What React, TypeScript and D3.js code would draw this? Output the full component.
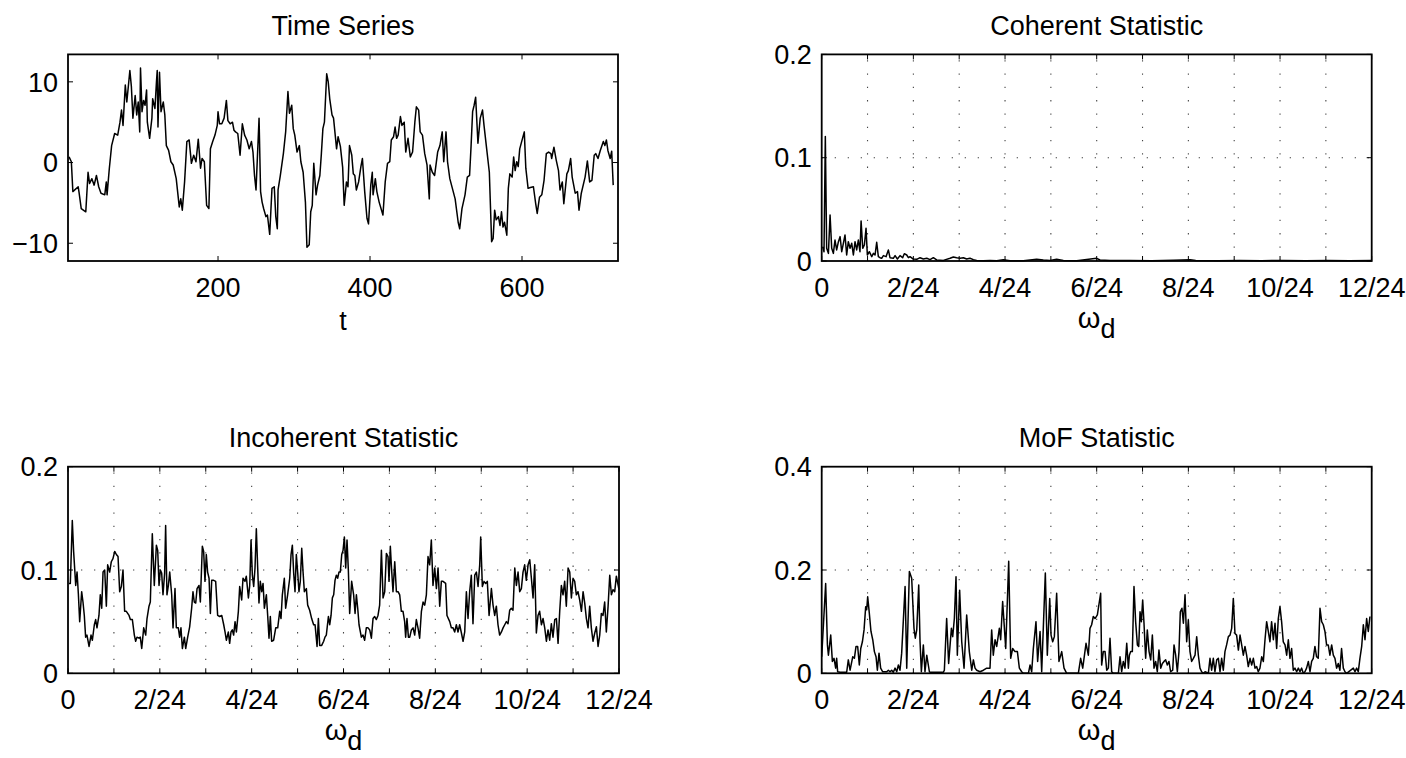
import React from 'react';
import * as d3 from 'd3';

// ---------- data ----------
const timeSeries: [number, number][] = [
  [4,0.7],[7,0.1],[9,-3.6],[16,-3.0],[17,-3.6],[20,-5.7],[26,-6.1],[29,-1.2],[31,-2.6],[34,-2.0],[37,-2.8],[40,-1.6],[43,-3.0],[46,-3.8],[51,-4.0],[53,-2.4],[54,-4.0],[57,-0.7],[60,2.1],[64,3.6],[68,3.4],[71,5.0],[73,6.5],[75,4.6],[78,9.6],[80,7.5],[84,11.4],[86,9.4],[88,5.5],[91,8.3],[93,5.9],[95,7.5],[97,3.8],[98,11.7],[100,6.3],[102,7.7],[104,7.1],[106,9.0],[107,5.0],[110,3.0],[113,5.5],[114,7.9],[117,6.7],[119,10.0],[120,11.4],[121,4.4],[123,11.2],[125,6.3],[128,7.5],[130,5.9],[132,2.1],[135,1.5],[138,0.1],[141,-0.3],[145,-2.0],[149,-5.5],[151,-4.5],[153,-5.9],[156,-2.4],[159,2.6],[162,2.8],[165,-0.1],[168,0.9],[171,0.1],[174,2.9],[177,-0.7],[179,0.5],[182,0.1],[185,-5.3],[188,-5.7],[190,1.7],[193,2.6],[196,3.4],[199,4.6],[200,6.3],[202,4.8],[205,4.8],[208,5.5],[211,7.7],[213,5.2],[216,4.8],[219,5.0],[221,4.0],[223,3.8],[226,3.6],[229,0.9],[232,4.8],[235,3.4],[238,2.8],[241,1.7],[244,2.6],[246,1.3],[248,-1.6],[250,-3.4],[254,5.5],[256,-3.6],[258,-4.9],[260,-5.7],[263,-6.7],[265,-6.5],[268,-8.9],[271,-3.2],[274,-3.0],[276,-6.7],[278,-8.2],[279,-3.4],[282,-1.6],[286,1.1],[289,3.8],[292,8.8],[294,6.1],[297,7.1],[299,4.2],[301,3.4],[304,1.3],[307,2.1],[309,0.1],[312,-1.2],[315,-4.9],[317,-10.5],[320,-10.2],[322,-6.1],[324,-5.3],[326,-0.1],[329,-4.0],[331,-2.8],[334,-1.6],[336,1.1],[338,4.2],[340,5.0],[343,11.0],[345,10.0],[347,7.9],[350,5.9],[352,5.5],[356,1.7],[358,3.2],[361,2.0],[364,-0.6],[366,-5.3],[369,-2.4],[371,-3.0],[373,2.1],[376,0.9],[378,-1.4],[380,-1.6],[382,-3.4],[385,-2.4],[388,-0.5],[390,0.5],[393,-3.6],[396,-6.9],[398,-7.6],[401,-2.8],[403,-1.2],[404,-4.0],[407,-2.0],[409,-3.6],[412,-4.9],[417,-6.5],[420,-2.4],[423,-0.1],[426,0.1],[428,2.8],[431,3.2],[433,4.4],[435,3.0],[437,3.4],[440,5.7],[442,4.6],[445,5.0],[447,1.3],[450,3.0],[453,0.7],[456,1.3],[459,5.0],[461,6.9],[464,6.5],[466,3.8],[469,3.4],[472,1.1],[475,-0.3],[478,-4.5],[479,-0.3],[482,-1.2],[485,-1.6],[489,1.3],[492,2.1],[495,3.8],[497,0.1],[500,3.8],[502,0.1],[505,-2.0],[512,-4.5],[516,-7.4],[518,-8.2],[521,-5.7],[525,-4.0],[528,-1.8],[531,-1.6],[533,2.1],[535,6.3],[537,7.1],[539,8.1],[542,2.4],[545,5.5],[548,6.5],[550,4.6],[553,2.1],[557,-1.2],[560,-9.8],[562,-9.4],[564,-5.9],[566,-7.1],[569,-6.7],[571,-7.8],[573,-6.1],[575,-8.0],[577,-7.4],[580,-9.0],[582,-3.2],[584,-1.4],[587,-1.8],[589,0.7],[591,-1.0],[593,0.1],[595,-0.5],[597,1.7],[599,2.4],[603,3.8],[605,-0.7],[608,-3.2],[611,-3.1],[615,-3.0],[618,-5.1],[620,-6.3],[623,-4.3],[626,-4.0],[629,-2.2],[632,1.1],[635,1.3],[638,1.1],[639,0.5],[642,1.9],[645,0.3],[648,-1.0],[650,-3.4],[653,-2.4],[655,-5.1],[659,-1.4],[661,-1.0],[664,0.5],[666,-1.8],[670,-3.8],[673,-3.6],[675,-5.9],[678,-3.8],[683,-1.8],[686,0.2],[689,-2.4],[692,-2.2],[695,0.9],[697,1.1],[700,0.5],[703,1.5],[707,2.6],[709,2.1],[711,2.8],[713,1.5],[716,0.5],[718,1.4],[720,-2.8]
];

const coherent: [number, number][] = [
  [0.0009,0.0139],[0.0021,0.009],[0.0033,0.1205],[0.0045,0.0123],[0.0061,0.0074],[0.0076,0.0446],[0.0091,0.0123],[0.0106,0.0074],[0.0121,0.0203],[0.0136,0.0107],[0.0152,0.0187],[0.0167,0.0236],[0.0182,0.009],[0.0197,0.0171],[0.0212,0.0252],[0.0227,0.0058],[0.0242,0.0187],[0.0258,0.0123],[0.0273,0.0171],[0.0288,0.0058],[0.0303,0.0187],[0.0318,0.0107],[0.0333,0.0203],[0.0348,0.009],[0.0358,0.0388],[0.0373,0.0123],[0.0388,0.0155],[0.0403,0.0317],[0.0415,0.0058],[0.0433,0.009],[0.0455,0.0042],[0.047,0.0074],[0.0485,0.0058],[0.05,0.0181],[0.0515,0.0042],[0.053,0.0032],[0.0545,0.0026],[0.0561,0.0052],[0.0585,0.0042],[0.0606,0.0107],[0.0621,0.0032],[0.0651,0.0026],[0.0667,0.0052],[0.0688,0.0019],[0.0712,0.0052],[0.0736,0.0032],[0.0751,0.0071],[0.0773,0.0058],[0.0788,0.0032],[0.0803,0.0042],[0.0833,0.0019],[0.0864,0.0016],[0.0894,0.0032],[0.0924,0.0019],[0.0955,0.0026],[0.0985,0.0013],[0.1015,0.0032],[0.1045,0.001],[0.1106,0.0006],[0.1167,0.0026],[0.1197,0.0039],[0.1227,0.0032],[0.1258,0.0026],[0.1288,0.0032],[0.1318,0.0019],[0.1348,0.0026],[0.1379,0.0013],[0.1409,0.0006],[0.147,0.0003],[0.153,0.0006],[0.1591,0.0003],[0.1651,0.0013],[0.1712,0.0003],[0.1833,0.0003],[0.1954,0.0016],[0.2015,0.001],[0.2076,0.0006],[0.2136,0.0016],[0.2197,0.0006],[0.2318,0.0003],[0.25,0.0026],[0.253,0.001],[0.2621,0.0006],[0.28,0.0005],[0.3,0.0003],[0.32,0.0008],[0.335,0.0012],[0.34,0.0006],[0.36,0.0003],[0.38,0.0004],[0.4,0.0003],[0.42,0.0005],[0.44,0.0003],[0.46,0.0004],[0.48,0.0003],[0.5,0.0004]
];

const incoherent: [number, number][] = [
  [0.0009,0.087],[0.0021,0.087],[0.0039,0.148],[0.0051,0.118],[0.007,0.085],[0.0082,0.098],[0.0094,0.077],[0.0106,0.05],[0.0124,0.079],[0.0136,0.069],[0.0148,0.056],[0.016,0.035],[0.0172,0.037],[0.0191,0.026],[0.0209,0.037],[0.0221,0.032],[0.0239,0.047],[0.0251,0.052],[0.0263,0.044],[0.0281,0.056],[0.0293,0.076],[0.0306,0.063],[0.0318,0.098],[0.0333,0.1],[0.0348,0.065],[0.036,0.105],[0.0378,0.098],[0.0393,0.108],[0.0408,0.111],[0.0424,0.118],[0.0439,0.115],[0.0454,0.113],[0.0469,0.079],[0.0484,0.084],[0.0499,0.1],[0.0514,0.06],[0.0529,0.06],[0.0554,0.056],[0.0566,0.052],[0.0584,0.052],[0.0602,0.037],[0.0614,0.031],[0.0626,0.035],[0.0644,0.034],[0.0656,0.035],[0.0669,0.024],[0.0687,0.044],[0.0705,0.037],[0.0717,0.053],[0.0735,0.065],[0.0747,0.069],[0.0765,0.135],[0.0783,0.085],[0.0802,0.124],[0.0814,0.119],[0.0826,0.085],[0.0838,0.1],[0.085,0.097],[0.0862,0.076],[0.0877,0.097],[0.0886,0.143],[0.0898,0.076],[0.0911,0.085],[0.0923,0.098],[0.0941,0.076],[0.0953,0.044],[0.0971,0.082],[0.0983,0.044],[0.1001,0.044],[0.1013,0.035],[0.1025,0.044],[0.1038,0.024],[0.1056,0.035],[0.1068,0.024],[0.1086,0.035],[0.1104,0.045],[0.1122,0.063],[0.1134,0.079],[0.1146,0.069],[0.1159,0.068],[0.1171,0.082],[0.1189,0.085],[0.1201,0.069],[0.1219,0.123],[0.1231,0.118],[0.1243,0.089],[0.1255,0.115],[0.1267,0.098],[0.128,0.092],[0.1292,0.058],[0.1304,0.09],[0.1322,0.09],[0.134,0.089],[0.1358,0.056],[0.1376,0.055],[0.1395,0.056],[0.1413,0.047],[0.1425,0.04],[0.1437,0.032],[0.1455,0.04],[0.1467,0.029],[0.1479,0.04],[0.1491,0.042],[0.1503,0.037],[0.1516,0.05],[0.1528,0.04],[0.1546,0.06],[0.1558,0.084],[0.1576,0.071],[0.1588,0.092],[0.1606,0.089],[0.1618,0.094],[0.1637,0.073],[0.1649,0.085],[0.1661,0.129],[0.1673,0.095],[0.1685,0.084],[0.1697,0.102],[0.1709,0.14],[0.1721,0.103],[0.1733,0.068],[0.1745,0.089],[0.1758,0.079],[0.177,0.087],[0.1782,0.063],[0.18,0.076],[0.1812,0.056],[0.1824,0.034],[0.1836,0.055],[0.1848,0.031],[0.1866,0.032],[0.1885,0.044],[0.1903,0.044],[0.1921,0.06],[0.1933,0.053],[0.1945,0.076],[0.1963,0.092],[0.1975,0.063],[0.1993,0.076],[0.2012,0.092],[0.2024,0.115],[0.2036,0.124],[0.2048,0.097],[0.206,0.079],[0.2072,0.115],[0.2084,0.098],[0.2096,0.079],[0.2108,0.089],[0.2121,0.121],[0.2133,0.098],[0.2145,0.079],[0.2163,0.082],[0.2175,0.066],[0.2193,0.061],[0.2211,0.053],[0.2229,0.047],[0.2242,0.047],[0.226,0.026],[0.2272,0.053],[0.2284,0.027],[0.2302,0.027],[0.232,0.031],[0.2332,0.035],[0.2344,0.037],[0.2363,0.055],[0.2375,0.047],[0.2387,0.056],[0.2399,0.073],[0.2411,0.076],[0.2423,0.09],[0.2435,0.095],[0.2447,0.092],[0.2459,0.098],[0.2471,0.098],[0.2484,0.115],[0.2496,0.119],[0.2508,0.132],[0.252,0.102],[0.2532,0.129],[0.2544,0.1],[0.2556,0.058],[0.2574,0.089],[0.2592,0.076],[0.2605,0.058],[0.2617,0.076],[0.2629,0.063],[0.2641,0.047],
  [0.2662,0.035],[0.2677,0.037],[0.2692,0.032],[0.2707,0.044],[0.2723,0.044],[0.2738,0.042],[0.2753,0.034],[0.2768,0.053],[0.2783,0.055],[0.2798,0.052],[0.2813,0.056],[0.2828,0.066],[0.2844,0.119],[0.2859,0.073],[0.2874,0.079],[0.2889,0.116],[0.2904,0.113],[0.2913,0.089],[0.2925,0.123],[0.2934,0.105],[0.2949,0.079],[0.2965,0.108],[0.298,0.079],[0.2995,0.079],[0.301,0.076],[0.3025,0.06],[0.304,0.06],[0.3055,0.05],[0.3064,0.035],[0.3076,0.053],[0.3089,0.035],[0.3101,0.035],[0.3116,0.042],[0.3131,0.044],[0.3146,0.037],[0.3161,0.052],[0.3176,0.044],[0.3191,0.034],[0.3207,0.06],[0.3222,0.069],[0.3237,0.066],[0.3252,0.076],[0.3267,0.113],[0.3282,0.105],[0.3297,0.129],[0.3312,0.085],[0.3328,0.102],[0.3343,0.082],[0.3358,0.102],[0.3373,0.065],[0.3388,0.089],[0.3403,0.089],[0.3427,0.087],[0.3439,0.056],[0.3464,0.05],[0.3479,0.044],[0.3494,0.044],[0.3509,0.04],[0.3524,0.047],[0.3539,0.04],[0.3554,0.047],[0.357,0.039],[0.3585,0.031],[0.36,0.04],[0.3615,0.079],[0.363,0.053],[0.3645,0.079],[0.366,0.095],[0.3675,0.048],[0.3691,0.095],[0.3706,0.098],[0.3721,0.084],[0.3736,0.105],[0.3745,0.132],[0.376,0.084],[0.3775,0.089],[0.379,0.087],[0.3805,0.089],[0.3821,0.056],[0.3842,0.082],[0.3857,0.066],[0.3872,0.056],[0.3887,0.065],[0.3902,0.047],[0.3917,0.037],[0.3933,0.04],[0.3948,0.044],[0.3963,0.047],[0.3978,0.05],[0.3993,0.048],[0.4008,0.061],[0.4023,0.063],[0.4038,0.061],[0.4054,0.102],[0.4069,0.085],[0.4084,0.098],[0.4099,0.079],[0.4114,0.082],[0.4129,0.098],[0.4144,0.105],[0.4159,0.09],[0.4175,0.105],[0.419,0.11],[0.4205,0.092],[0.422,0.073],[0.4235,0.105],[0.425,0.039],[0.4265,0.056],[0.428,0.06],[0.4296,0.047],[0.4311,0.053],[0.4326,0.044],[0.4341,0.031],[0.4356,0.042],[0.4371,0.032],[0.4386,0.048],[0.4401,0.035],[0.4417,0.052],[0.4432,0.053],[0.4447,0.029],[0.4462,0.06],[0.4477,0.085],[0.4492,0.076],[0.4507,0.089],[0.4522,0.065],[0.4538,0.102],[0.4553,0.098],[0.4568,0.073],[0.4583,0.092],[0.4598,0.089],[0.4613,0.076],[0.4628,0.079],[0.4643,0.071],[0.4659,0.06],[0.4674,0.079],[0.4689,0.068],[0.4704,0.053],[0.4719,0.044],[0.4734,0.065],[0.4749,0.044],[0.4764,0.031],[0.478,0.039],[0.4795,0.045],[0.481,0.026],[0.4825,0.037],[0.484,0.058],[0.4855,0.056],[0.487,0.069],[0.4885,0.04],[0.4901,0.065],[0.4916,0.095],[0.4931,0.076],[0.4946,0.081],[0.4961,0.079],[0.4976,0.094],[0.5,0.081]
];

const mof: [number, number][] = [
  [0,0.032],[0.0036,0.174],[0.0052,0.055],[0.0061,0.035],[0.0082,0.074],[0.0097,0.023],[0.0112,0.029],[0.0127,0.01],[0.0136,0.029],[0.0145,0.003],[0.0167,0.002],[0.0227,0.002],[0.0242,0.026],[0.0258,0.006],[0.0282,0.032],[0.0297,0.029],[0.0312,0.052],[0.0327,0.052],[0.0342,0.016],[0.0355,0.048],[0.037,0.061],[0.0385,0.084],[0.04,0.129],[0.0409,0.123],[0.0418,0.148],[0.0427,0.129],[0.0433,0.116],[0.0448,0.081],[0.0464,0.065],[0.0479,0.042],[0.0494,0.032],[0.0506,0.006],[0.0521,0.039],[0.0536,0.01],[0.0555,0.003],[0.0591,0.003],[0.0606,0.006],[0.0621,0.003],[0.0636,0.006],[0.0651,0.002],[0.0667,0.01],[0.0682,0.003],[0.0697,0.016],[0.0712,0.006],[0.0727,0.039],[0.0758,0.168],[0.0773,0.01],[0.0797,0.197],[0.0818,0.184],[0.0839,0.087],[0.0851,0.068],[0.0864,0.084],[0.0882,0.171],[0.0894,0.061],[0.0906,0.003],[0.0924,0.055],[0.0939,0.003],[0.0955,0.035],[0.0979,0.003],[0.0985,0.002],[0.1106,0.002],[0.1115,0.006],[0.1136,0.106],[0.1154,0.019],[0.1179,0.087],[0.1191,0.071],[0.1206,0.106],[0.1221,0.187],[0.1233,0.035],[0.1254,0.161],[0.1273,0.061],[0.1294,0.01],[0.1318,0.113],[0.1342,0.042],[0.1364,0.006],[0.1379,0.026],[0.1394,0.01],[0.1409,0.006],[0.1439,0.003],[0.147,0.006],[0.15,0.01],[0.153,0.01],[0.1545,0.084],[0.156,0.035],[0.1576,0.065],[0.1591,0.052],[0.1615,0.087],[0.1627,0.065],[0.1645,0.139],[0.1657,0.1],[0.1673,0.048],[0.17,0.217],[0.1718,0.029],[0.1736,0.048],[0.1757,0.042],[0.1779,0.042],[0.1797,0.01],[0.1818,0.003],[0.1833,0],[0.1879,0],[0.1894,0.016],[0.1909,0.003],[0.1924,0.048],[0.1948,0.1],[0.1963,0.023],[0.1985,0.081],[0.2,0.003],[0.2033,0.194],[0.2051,0.035],[0.2073,0.145],[0.2085,0.074],[0.21,0.061],[0.2115,0.071],[0.2136,0.155],[0.2157,0.023],[0.2182,0.042],[0.2203,0.01],[0.2227,0],[0.2333,0],[0.2354,0.029],[0.2373,0.01],[0.2403,0.058],[0.2424,0.035],[0.2439,0.087],[0.2454,0.094],[0.2469,0.11],[0.2485,0.106],[0.2506,0.113],[0.2536,0.155],
  [0.2545,0.016],[0.256,0.042],[0.2576,0.042],[0.2591,0.006],[0.2606,0.01],[0.2621,0.068],[0.2636,0.003],[0.2651,0],[0.2697,0],[0.2712,0.032],[0.2727,0.003],[0.2742,0.023],[0.2757,0.01],[0.2773,0.058],[0.2788,0.01],[0.2797,0.035],[0.2809,0.042],[0.2824,0.042],[0.2839,0.168],[0.2854,0.1],[0.287,0.055],[0.2882,0.052],[0.2894,0.119],[0.2906,0.1],[0.2918,0.142],[0.293,0.097],[0.2945,0.029],[0.296,0.084],[0.2976,0.042],[0.2991,0.026],[0.3006,0.074],[0.3021,0.01],[0.3036,0.023],[0.3051,0.003],[0.3066,0.045],[0.3082,0.01],[0.3097,0.019],[0.3112,0.023],[0.3127,0.026],[0.3142,0.016],[0.3157,0.023],[0.3172,0.003],[0.3191,0.006],[0.3203,0.055],[0.3218,0.035],[0.3233,0.003],[0.3248,0.042],[0.326,0.119],[0.3275,0.126],[0.3288,0.097],[0.3303,0.152],[0.3318,0.061],[0.3333,0.103],[0.3348,0.042],[0.3363,0.023],[0.3379,0.029],[0.3394,0.035],[0.3409,0.071],[0.3424,0.035],[0.3439,0.01],[0.3454,0.003],[0.3469,0],[0.3485,0.003],[0.3515,0],[0.353,0.029],[0.3545,0.006],[0.356,0.029],[0.3575,0.003],[0.3591,0.026],[0.3606,0.029],[0.3621,0.003],[0.3636,0.029],[0.3651,0.006],[0.3666,0.042],[0.3681,0.055],[0.3697,0.071],[0.3712,0.074],[0.3727,0.087],[0.3742,0.145],[0.3757,0.077],[0.3772,0.074],[0.3788,0.045],[0.3803,0.074],[0.3818,0.055],[0.3833,0.035],[0.3848,0.052],[0.3863,0.035],[0.3878,0.013],[0.3894,0.029],[0.3909,0.016],[0.3924,0.029],[0.3939,0.01],[0.3954,0.013],[0.3969,0.003],[0.3984,0.01],[0.4,0.032],[0.4015,0.023],[0.403,0.065],[0.4045,0.1],[0.406,0.081],[0.4075,0.061],[0.409,0.1],[0.4106,0.065],[0.4121,0.097],[0.4136,0.048],[0.4151,0.106],[0.4166,0.129],[0.4181,0.1],[0.4196,0.061],[0.4212,0.055],[0.4227,0.035],[0.4242,0.065],[0.4257,0.029],[0.4272,0.048],[0.4287,0.006],[0.4302,0.01],[0.4318,0.003],[0.4333,0.01],[0.4348,0.003],[0.4363,0.01],[0.4378,0],[0.4393,0.003],[0.4408,0.01],[0.4424,0.023],[0.4439,0.003],[0.4454,0.023],[0.4469,0.029],[0.4484,0.052],[0.4499,0.032],[0.4514,0.029],[0.453,0.126],[0.4545,0.1],[0.456,0.094],[0.4575,0.081],[0.459,0.055],[0.4605,0.055],[0.462,0.035],[0.4636,0.055],[0.4651,0.035],[0.4666,0.029],[0.4681,0.01],[0.4696,0.019],[0.4711,0.006],[0.4726,0.048],[0.4742,0.01],[0.4757,0.003],[0.4772,0],[0.4833,0.01],[0.4848,0.003],[0.4863,0.01],[0.4878,0.003],[0.4893,0.029],[0.4909,0.052],[0.4924,0.094],[0.4939,0.065],[0.4954,0.106],[0.4969,0.081],[0.4984,0.11]
];

const tsXTicks = [200, 400, 600];
const tsXTickLabels = ['200', '400', '600'];
const tsYTicks = [-10, 0, 10];
const tsYTickLabels = ['\u221210', '0', '10'];

const freqTicks = [0, 1/24, 2/24, 3/24, 4/24, 5/24, 6/24, 7/24, 8/24, 9/24, 10/24, 11/24, 12/24];
const freqTickLabels = ['0', '', '2/24', '', '4/24', '', '6/24', '', '8/24', '', '10/24', '', '12/24'];
const statYTicks = [0, 0.1, 0.2];
const statYTickLabels = ['0', '0.1', '0.2'];
const mofYTicks = [0, 0.2, 0.4];
const mofYTickLabels = ['0', '0.2', '0.4'];

const titles = ['Time Series', 'Coherent Statistic', 'Incoherent Statistic', 'MoF Statistic'];

// ---------- drawing ----------
const FONT = '"Liberation Sans", Arial, Helvetica, sans-serif';
const TICK_FS = 27;
const TITLE_FS = 27;

type PanelProps = {
  left: number; top: number; width: number; height: number;
  xDomain: [number, number]; yDomain: [number, number];
  xTicks: number[]; xTickLabels: string[];
  yTicks: number[]; yTickLabels: string[];
  grid: boolean; title: string; xLabel: 't' | 'omega';
  data: [number, number][];
};

function Panel(p: PanelProps) {
  const x = d3.scaleLinear().domain(p.xDomain).range([p.left, p.left + p.width]);
  const y = d3.scaleLinear().domain(p.yDomain).range([p.top + p.height, p.top]);
  const lineGen = d3.line<[number, number]>().x(d => x(d[0])).y(d => y(d[1]));
  const path = lineGen(p.data) ?? '';
  const bottom = p.top + p.height;
  const right = p.left + p.width;
  const cx = p.left + p.width / 2;
  const tl = 5;
  const inner = (v: number, dom: [number, number]) => v > dom[0] + 1e-9 && v < dom[1] - 1e-9;
  return (
    <g>
      {p.grid && p.xTicks.filter(t => inner(t, p.xDomain)).map((t, i) => (
        <line key={'gx' + i} x1={x(t)} x2={x(t)} y1={bottom} y2={p.top}
          stroke="#444" strokeWidth={1.1} strokeDasharray="1.3 12" />
      ))}
      {p.grid && p.yTicks.filter(t => inner(t, p.yDomain)).map((t, i) => (
        <line key={'gy' + i} x1={p.left} x2={right} y1={y(t)} y2={y(t)}
          stroke="#444" strokeWidth={1.1} strokeDasharray="1.3 11.7" />
      ))}
      <path d={path} fill="none" stroke="#000" strokeWidth={1.5} strokeLinejoin="round" />
      {p.xTicks.map((t, i) => (
        <g key={'xt' + i}>
          <line x1={x(t)} x2={x(t)} y1={bottom} y2={bottom - tl} stroke="#000" strokeWidth={1} />
          <line x1={x(t)} x2={x(t)} y1={p.top} y2={p.top + tl} stroke="#000" strokeWidth={1} />
        </g>
      ))}
      {p.yTicks.map((t, i) => (
        <g key={'yt' + i}>
          <line x1={p.left} x2={p.left + tl} y1={y(t)} y2={y(t)} stroke="#000" strokeWidth={1} />
          <line x1={right} x2={right - tl} y1={y(t)} y2={y(t)} stroke="#000" strokeWidth={1} />
        </g>
      ))}
      <rect x={p.left} y={p.top} width={p.width} height={p.height} fill="none" stroke="#000" strokeWidth={1.8} />
      {p.xTicks.map((t, i) => p.xTickLabels[i] ? (
        <text key={'xl' + i} x={x(t)} y={bottom + 35.5} textAnchor="middle"
          fontFamily={FONT} fontSize={TICK_FS} fill="#000">{p.xTickLabels[i]}</text>
      ) : null)}
      {p.yTicks.map((t, i) => (
        <text key={'yl' + i} x={p.left - 10} y={y(t)} dy="0.36em" textAnchor="end"
          fontFamily={FONT} fontSize={TICK_FS} fill="#000">{p.yTickLabels[i]}</text>
      ))}
      <text x={cx} y={p.top - 19.5} textAnchor="middle" fontFamily={FONT} fontSize={TITLE_FS} fill="#000">{p.title}</text>
      {p.xLabel === 't' ? (
        <text x={cx} y={bottom + 69} textAnchor="middle" fontFamily={FONT} fontSize={TICK_FS} fill="#000">t</text>
      ) : (
        <text x={cx} y={bottom + 67} textAnchor="middle" fontFamily={FONT} fontSize={TICK_FS} fill="#000">
          <tspan fontSize={29}>ω</tspan>
          <tspan dy={10}>d</tspan>
        </text>
      )}
    </g>
  );
}

export default function App() {
  const W = 1406, H = 758;
  const L1 = 68, L2 = 821.7, PW = 550, PH = 206.6, T1 = 54.4, T2 = 466.7;
  return (
    <svg width={W} height={H} style={{ position: 'absolute', left: 0, top: 0, background: '#fff' }}>
      <rect x={0} y={0} width={W} height={H} fill="#fff" />
      <Panel left={L1} top={T1} width={PW} height={PH} xDomain={[2.6, 726.3]} yDomain={[-12.2, 13.4]}
        xTicks={tsXTicks} xTickLabels={tsXTickLabels} yTicks={tsYTicks} yTickLabels={tsYTickLabels}
        grid={false} title={titles[0]} xLabel="t" data={timeSeries} />
      <Panel left={L2} top={T1} width={PW} height={PH} xDomain={[0, 0.5]} yDomain={[0, 0.2]}
        xTicks={freqTicks} xTickLabels={freqTickLabels} yTicks={statYTicks} yTickLabels={statYTickLabels}
        grid={true} title={titles[1]} xLabel="omega" data={coherent} />
      <Panel left={L1} top={T2} width={PW + 1} height={PH} xDomain={[0, 0.5]} yDomain={[0, 0.2]}
        xTicks={freqTicks} xTickLabels={freqTickLabels} yTicks={statYTicks} yTickLabels={statYTickLabels}
        grid={true} title={titles[2]} xLabel="omega" data={incoherent} />
      <Panel left={L2} top={T2} width={PW} height={PH} xDomain={[0, 0.5]} yDomain={[0, 0.4]}
        xTicks={freqTicks} xTickLabels={freqTickLabels} yTicks={mofYTicks} yTickLabels={mofYTickLabels}
        grid={true} title={titles[3]} xLabel="omega" data={mof} />
    </svg>
  );
}
